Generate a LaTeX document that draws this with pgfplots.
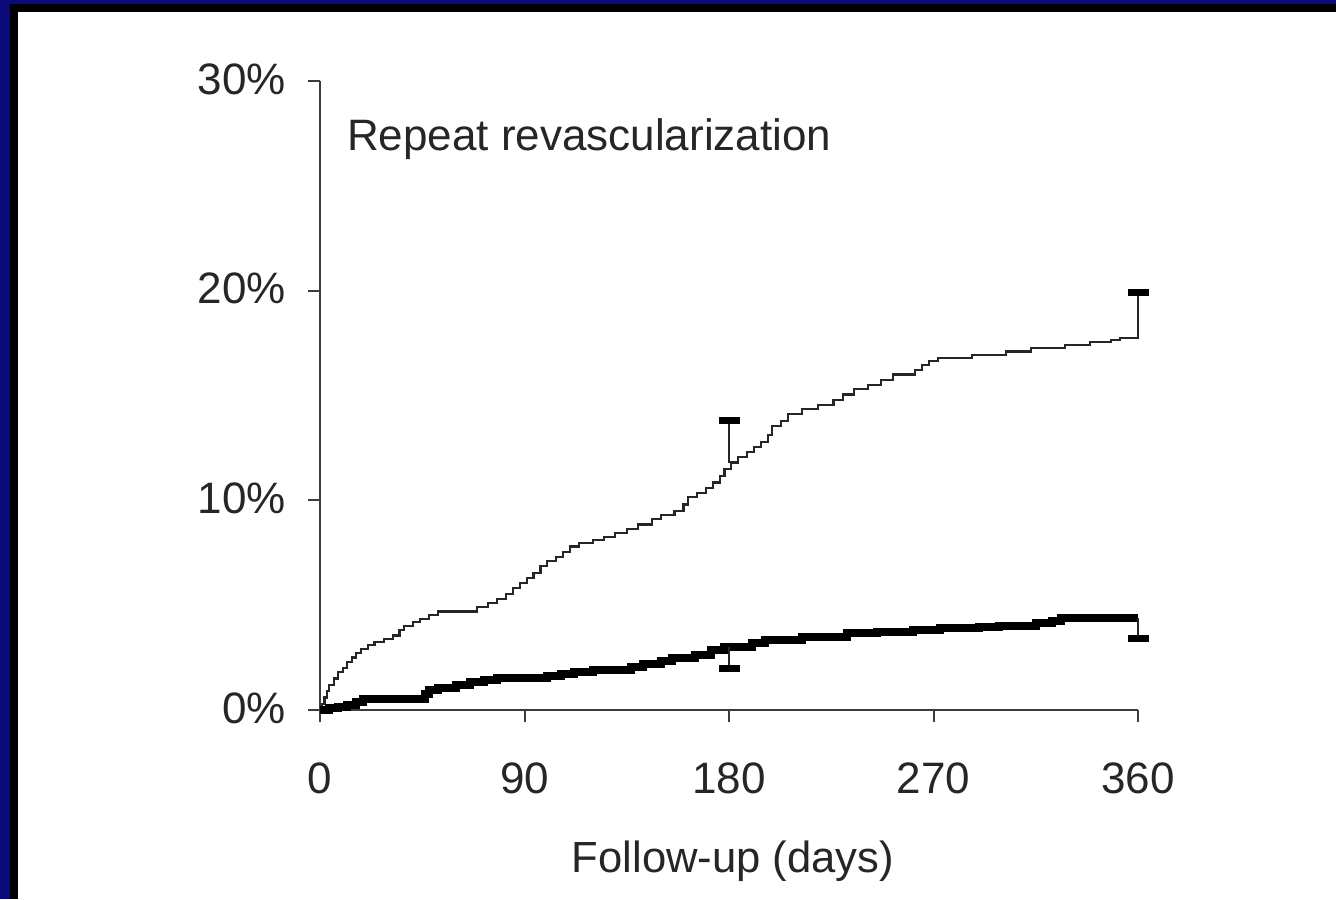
\documentclass[border=0pt]{standalone}
\usepackage{pgfplots}
\pgfplotsset{compat=1.18}
\usepackage{fontspec}
\setmainfont{Liberation Sans}
\definecolor{slidenavy}{RGB}{10,10,120}
\definecolor{axisgray}{RGB}{60,60,60}
\begin{document}
\begin{tikzpicture}[x=1pt,y=1pt]
\fill[slidenavy] (0,0) rectangle (668,449.5);
\fill[black] (5,0) rectangle (668,447.5);
\fill[white] (9,0) rectangle (668,443.5);
\begin{axis}[
  at={(160pt,94.5pt)}, anchor=south west,
  scale only axis, width=409pt, height=314.5pt,
  xmin=0, xmax=360, ymin=0, ymax=30,
  axis x line*=bottom, axis y line*=left,
  axis line style={axisgray, line width=1pt, -},
  xtick={0,90,180,270,360}, ytick={0,10,20,30},
  tick align=outside, major tick length=6pt,
  tick style={axisgray, line width=1pt},
  /pgf/number format/assume math mode=true,
  yticklabel={\pgfmathprintnumber{\tick}\%},
  tick label style={font=\fontsize{22}{26}\selectfont, text=black!85},
  xticklabel style={anchor=base, yshift=-35.5pt},
  yticklabel style={anchor=east, xshift=-7.5pt, yshift=1pt},
  xlabel={Follow-up (days)},
  xlabel style={at={(axis description cs:0.5,-0.2576)}, anchor=base, font=\fontsize{21.8}{26}\selectfont, text=black!85, xshift=2pt},
  clip=false,
]
\addplot[const plot, draw=black!85, line width=1.1pt] coordinates {
(0,0) (1,0.3) (2,0.6) (3,0.9) (4,1.2) (6,1.5) (8,1.8) (10,2.0) (12,2.3) (14,2.5) (16,2.7) (18,2.9) (21,3.1) (24,3.25) (28,3.4) (32,3.55) (35,3.8) (37,4.0) (41,4.2) (44,4.35) (48,4.55) (52,4.7) (69,4.9) (74,5.1) (78,5.3) (82,5.55) (85,5.8) (88,6.05) (91,6.3) (94,6.55) (97,6.85) (100,7.1) (104,7.3) (107,7.55) (110,7.8) (114,7.95) (120,8.1) (125,8.25) (130,8.45) (135,8.65) (140,8.85) (146,9.1) (150,9.3) (156,9.5) (160,9.8) (162,10.15) (166,10.35) (170,10.6) (173,10.85) (176,11.15) (178,11.5) (181,11.8) (184,12.05) (188,12.3) (191,12.55) (194,12.8) (197,13.1) (199,13.55) (203,13.8) (206,14.1) (212,14.35) (219,14.55) (226,14.8) (230,15.05) (235,15.3) (241,15.5) (247,15.75) (252,16.0) (262,16.2) (265,16.45) (268,16.65) (272,16.8) (287,16.95) (302,17.1) (313,17.25) (328,17.4) (339,17.55) (348,17.65) (352,17.75) (360,17.8)
};
\addplot[const plot, draw=black, line width=4pt] coordinates {
(0,0) (4,0.08) (8,0.15) (12,0.25) (16,0.4) (19,0.52) (46,0.75) (48,0.95) (52,1.05) (60,1.2) (66,1.35) (72,1.45) (78,1.52) (100,1.62) (106,1.72) (112,1.82) (120,1.9) (137,2.05) (142,2.2) (150,2.35) (155,2.5) (165,2.6) (172,2.85) (178,3.0) (190,3.2) (196,3.35) (212,3.48) (232,3.65) (245,3.72) (261,3.8) (273,3.9) (290,3.95) (299,4.0) (315,4.15) (322,4.25) (326,4.39) (360,4.39)
};
% upper confidence bars (upper curve)
\addplot[draw=none, mark=none, error bars/.cd, y dir=plus, y explicit,
  error bar style={black!85, line width=1pt},
  error mark=|, error mark options={black, line width=3.5pt, mark size=5.25pt}]
  coordinates {(180,11.8) +- (0,2.0) (360,17.8) +- (0,2.1)};
% lower confidence bars (lower curve)
\addplot[draw=none, mark=none, error bars/.cd, y dir=minus, y explicit,
  error bar style={black!85, line width=1pt},
  error mark=|, error mark options={black, line width=3.5pt, mark size=5.25pt}]
  coordinates {(180,3.0) +- (0,1.0) (360,4.39) +- (0,1.0)};
\node[anchor=base west, font=\fontsize{22}{26}\selectfont, text=black!85] at (axis cs:8.8,26.7) {Repeat revascularization};
\end{axis}
\pgfresetboundingbox
\path[use as bounding box] (0,0) rectangle (668,449.5);
\end{tikzpicture}
\end{document}
